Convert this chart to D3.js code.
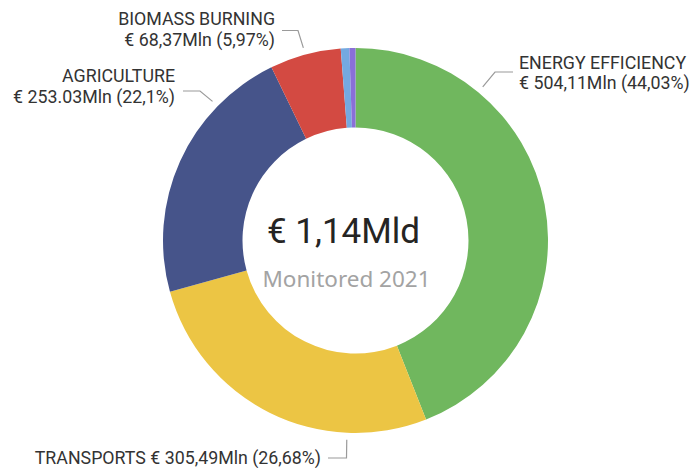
<!DOCTYPE html>
<html><head><meta charset="utf-8">
<script src="https://cdn.jsdelivr.net/npm/d3@7"></script>
<style>
html,body{margin:0;padding:0;background:#fff;}
svg{display:block;}
</style></head>
<body>
<svg id="chart" width="697" height="468"></svg>
<script>
const categories = ["ENERGY EFFICIENCY","TRANSPORTS","AGRICULTURE","BIOMASS BURNING","OTHER 1","OTHER 2"];
const values = [504.11, 305.49, 253.03, 68.37, 8.2, 5.8];
const valueLabels = ["€ 504,11Mln (44,03%)","€ 305,49Mln (26,68%)","€ 253.03Mln (22,1%)","€ 68,37Mln (5,97%)","",""];
const colors = ["#70b75e","#ecc544","#46548a","#d34a42","#74a9e0","#8a6fd8"];
const totalLabel = "€ 1,14Mld";
const subtitle = "Monitored 2021";

const svg = d3.select("#chart");
const cx = 355.5, cy = 240.5, R = 192.5, r = 113;
const g = svg.append("g").attr("transform", `translate(${cx},${cy})`);

const pie = d3.pie().sort(null).value(d => d)(values);
const arc = d3.arc().innerRadius(r).outerRadius(R);

g.selectAll("path.slice").data(pie).enter().append("path")
  .attr("class","slice")
  .attr("d", arc)
  .attr("fill", (d,i) => colors[i]);

// center text
g.append("text").attr("x",-12).attr("y",2).attr("text-anchor","middle")
  .attr("font-family","Roboto, sans-serif").attr("font-size",35).attr("fill","#252423")
  .text(totalLabel);
g.append("text").attr("x",-9).attr("y",46).attr("text-anchor","middle")
  .attr("font-family","'Noto Sans', sans-serif").attr("font-size",22.5).attr("fill","#a3a3a3")
  .text(subtitle);

// label layout
const labelLayout = [
  {i:0, frac:0.25, elbow:[495,72], end:[513,72], anchor:"start", tx:519, y1:69, y2:89},
  {i:1, frac:0.25, elbow:[346.5,458], end:[328,458], anchor:"end", tx:321, y1:464},
  {i:2, frac:0.75, elbow:[200,91], end:[183,91], anchor:"end", tx:175, y1:82, y2:103},
  {i:3, frac:0.5, elbow:[298,30.5], end:[282,30.5], anchor:"end", tx:275, y1:25, y2:46}
];

const labelFont = "Roboto, sans-serif";
labelLayout.forEach(L => {
  const d = pie[L.i];
  const a = d.startAngle + (d.endAngle - d.startAngle) * L.frac;
  const rr = R + 7;
  const p0 = [cx + rr*Math.sin(a), cy - rr*Math.cos(a)];
  svg.append("polyline")
    .attr("points", [p0, L.elbow, L.end].map(p => p.join(",")).join(" "))
    .attr("fill","none").attr("stroke","#9a9a9a").attr("stroke-width",1.2);
  const t = svg.append("text").attr("text-anchor", L.anchor)
    .attr("font-family", labelFont).attr("font-size",17.8).attr("fill","#333333");
  if (L.y2 !== undefined) {
    t.append("tspan").attr("x", L.tx).attr("y", L.y1).text(categories[L.i]);
    t.append("tspan").attr("x", L.tx).attr("y", L.y2).text(valueLabels[L.i]);
  } else {
    t.append("tspan").attr("x", L.tx).attr("y", L.y1).text(categories[L.i] + " " + valueLabels[L.i]);
  }
});
</script>
</body></html>
